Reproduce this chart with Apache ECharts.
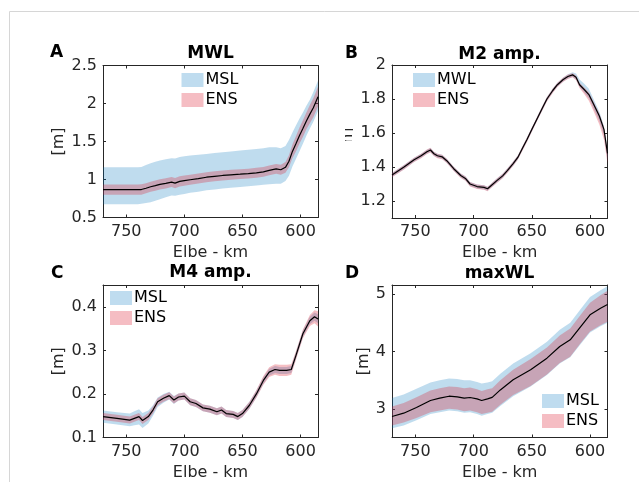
<!DOCTYPE html>
<html>
<head>
<meta charset="utf-8">
<script src="https://cdn.jsdelivr.net/npm/echarts@6/dist/echarts.min.js"></script>
<style>html,body{margin:0;padding:0;background:#fff}#c{width:639px;height:482px}</style>
</head>
<body>
<div id="c"></div>
<script>
// ---------- Panel A : MWL ----------
const kmA = [770,760,750,740,737,733,729,725,721,716,711,708,704,700,695,688,681,674,667,660,652,645,638,632,627,621,617,613,610,607,604,601,598,595,592,589,585];
const lineA = [0.866,0.866,0.866,0.866,0.868,0.885,0.905,0.92,0.936,0.95,0.966,0.952,0.975,0.985,0.997,1.012,1.03,1.042,1.053,1.062,1.07,1.078,1.088,1.10,1.12,1.14,1.128,1.16,1.24,1.37,1.47,1.576,1.67,1.77,1.86,1.945,2.09];
const mslHiA = [1.16,1.16,1.16,1.162,1.165,1.19,1.215,1.235,1.25,1.265,1.28,1.275,1.295,1.305,1.315,1.325,1.337,1.35,1.36,1.37,1.38,1.39,1.40,1.41,1.425,1.425,1.41,1.44,1.52,1.62,1.71,1.80,1.88,1.97,2.05,2.15,2.30];
const mslLoA = [0.674,0.674,0.674,0.675,0.68,0.69,0.70,0.72,0.74,0.765,0.79,0.785,0.80,0.81,0.825,0.84,0.857,0.87,0.88,0.89,0.90,0.91,0.92,0.93,0.936,0.945,0.944,0.98,1.05,1.17,1.27,1.37,1.47,1.576,1.67,1.76,1.90];
const ensHiA = [0.935,0.935,0.935,0.935,0.937,0.952,0.972,0.988,1.003,1.017,1.033,1.02,1.042,1.052,1.063,1.078,1.095,1.107,1.118,1.127,1.135,1.143,1.153,1.165,1.185,1.205,1.195,1.23,1.32,1.46,1.57,1.68,1.78,1.88,1.98,2.07,2.22];
const ensLoA = [0.80,0.80,0.80,0.80,0.80,0.818,0.838,0.853,0.868,0.883,0.90,0.886,0.908,0.918,0.93,0.946,0.965,0.977,0.988,0.997,1.005,1.013,1.023,1.035,1.055,1.075,1.062,1.09,1.16,1.28,1.37,1.47,1.56,1.66,1.74,1.82,1.96];

// ---------- Panel B : M2 amp. ----------
const kmB = [770,760,751,745,740,737,734,731,727,723,717,711,707,703,697,691,688,685,680,675,671,666,662,658,654,650,645,641,637,632,628,623,619,615,612,609,605,601,597,592,588,585];
const lineB = [1.353,1.398,1.443,1.466,1.49,1.50,1.478,1.466,1.46,1.437,1.39,1.35,1.333,1.30,1.285,1.28,1.272,1.29,1.32,1.348,1.379,1.42,1.456,1.51,1.563,1.62,1.69,1.745,1.80,1.85,1.884,1.915,1.932,1.942,1.928,1.884,1.856,1.826,1.77,1.70,1.62,1.48];
const mslHiB = [1.365,1.41,1.455,1.478,1.502,1.512,1.49,1.478,1.472,1.449,1.402,1.362,1.345,1.312,1.297,1.292,1.284,1.302,1.332,1.36,1.391,1.432,1.468,1.522,1.575,1.632,1.702,1.757,1.812,1.862,1.896,1.927,1.945,1.958,1.95,1.915,1.89,1.86,1.80,1.725,1.64,1.50];
const mslLoB = [1.341,1.386,1.431,1.454,1.478,1.488,1.466,1.454,1.448,1.425,1.378,1.338,1.321,1.288,1.273,1.268,1.26,1.278,1.308,1.336,1.367,1.408,1.444,1.498,1.551,1.608,1.678,1.733,1.788,1.838,1.872,1.903,1.92,1.93,1.915,1.87,1.84,1.805,1.745,1.67,1.585,1.44];
const ensHiB = [1.365,1.41,1.455,1.478,1.503,1.513,1.49,1.478,1.472,1.449,1.402,1.362,1.345,1.312,1.297,1.292,1.284,1.302,1.332,1.36,1.391,1.432,1.468,1.522,1.575,1.632,1.702,1.757,1.812,1.862,1.896,1.927,1.944,1.952,1.938,1.896,1.868,1.84,1.785,1.715,1.635,1.50];
const ensLoB = [1.339,1.384,1.429,1.452,1.476,1.486,1.464,1.452,1.446,1.423,1.376,1.336,1.319,1.286,1.271,1.266,1.258,1.276,1.306,1.334,1.365,1.406,1.442,1.496,1.549,1.606,1.676,1.731,1.786,1.836,1.870,1.901,1.918,1.928,1.91,1.865,1.83,1.79,1.73,1.65,1.56,1.42];

// ---------- Panel C : M4 amp. ----------
const kmC = [770,758,747,743,739,736,731,727,723,718,713,709,705,700,695,690,684,678,672,668,664,658,654,650,644,638,632,627,622,618,612,608,604,598,592,588,585];
const lineC = [0.148,0.144,0.140,0.144,0.148,0.139,0.148,0.163,0.182,0.190,0.196,0.186,0.193,0.195,0.182,0.178,0.168,0.165,0.159,0.163,0.155,0.153,0.148,0.155,0.174,0.200,0.231,0.250,0.256,0.254,0.254,0.256,0.288,0.338,0.368,0.377,0.372];
const mslHiC = [0.162,0.158,0.155,0.160,0.165,0.156,0.162,0.174,0.192,0.200,0.205,0.195,0.201,0.203,0.19,0.186,0.176,0.173,0.167,0.171,0.163,0.161,0.156,0.163,0.182,0.208,0.239,0.258,0.264,0.262,0.262,0.264,0.296,0.346,0.377,0.387,0.383];
const mslLoC = [0.134,0.13,0.126,0.128,0.13,0.122,0.132,0.15,0.17,0.18,0.187,0.177,0.185,0.187,0.174,0.17,0.16,0.157,0.151,0.155,0.147,0.145,0.14,0.147,0.166,0.192,0.223,0.242,0.248,0.246,0.246,0.248,0.28,0.33,0.36,0.368,0.362];
const ensHiC = [0.156,0.152,0.148,0.152,0.156,0.147,0.156,0.171,0.19,0.198,0.204,0.194,0.201,0.203,0.19,0.186,0.176,0.173,0.167,0.171,0.163,0.161,0.156,0.163,0.182,0.209,0.241,0.261,0.268,0.267,0.267,0.268,0.298,0.348,0.381,0.392,0.39];
const ensLoC = [0.14,0.136,0.132,0.136,0.14,0.131,0.14,0.155,0.174,0.182,0.188,0.178,0.185,0.187,0.174,0.17,0.16,0.157,0.151,0.155,0.147,0.145,0.14,0.147,0.166,0.191,0.221,0.239,0.244,0.241,0.241,0.244,0.278,0.328,0.356,0.362,0.355];

// ---------- Panel D : maxWL ----------
const kmD = [770,760,749,737,729,721,714,708,703,697,693,688,684,677,666,651,637,626,617,608,600,591,585];
const lineD = [2.866,2.924,3.023,3.145,3.186,3.22,3.21,3.186,3.198,3.174,3.145,3.174,3.20,3.33,3.506,3.68,3.884,4.087,4.203,4.436,4.64,4.756,4.82];
const mslHiD = [3.19,3.25,3.35,3.46,3.50,3.53,3.52,3.50,3.50,3.47,3.44,3.46,3.48,3.61,3.79,3.97,4.17,4.38,4.50,4.74,4.95,5.07,5.14];
const mslLoD = [2.66,2.71,2.80,2.91,2.94,2.97,2.96,2.93,2.94,2.91,2.88,2.91,2.93,3.05,3.22,3.39,3.59,3.79,3.90,4.13,4.33,4.44,4.50];
const ensHiD = [3.04,3.10,3.20,3.32,3.36,3.39,3.38,3.36,3.37,3.34,3.31,3.34,3.36,3.50,3.68,3.87,4.07,4.28,4.40,4.64,4.85,4.98,5.06];
const ensLoD = [2.71,2.76,2.84,2.94,2.97,3.00,2.99,2.96,2.97,2.94,2.91,2.93,2.95,3.07,3.24,3.40,3.60,3.80,3.91,4.15,4.35,4.46,4.52];

// ---------- ticks ----------
const xTicks = [600,650,700,750];
const yTicksA = [0.5,1,1.5,2,2.5];
const yTicksB = [1.2,1.4,1.6,1.8,2];
const yTicksC = [0.1,0.2,0.3,0.4];
const yTicksD = [3,4,5];

const FONT = 'DejaVu Sans';
const FS = 16;
const AX = '#262626';
const BLUE = 'rgba(0,114,189,0.25)';
const RED = 'rgba(220,20,40,0.28)';
const BLUE_L = '#bfdcef';
const RED_L = '#f5bdc3';

const grids = [
  {left:103, top:65.5, width:215, height:152},
  {left:392, top:65,   width:215.5, height:153},
  {left:103, top:285,  width:215, height:152.5},
  {left:392, top:285,  width:215.5, height:152.5}
];
const yRanges = [[0.5,2.5,yTicksA],[1.1,2,yTicksB],[0.1,0.45,yTicksC],[2.5,5.16,yTicksD]];
const yGaps = [36,36,36,18];

const xAxes = [], yAxes = [];
grids.forEach((g,i)=>{
  xAxes.push({type:'value', gridIndex:i, min:585, max:770, inverse:true, position:'bottom',
    axisLine:{lineStyle:{color:AX,width:1}}, splitLine:{show:false},
    axisTick:{inside:true,length:3,lineStyle:{color:AX},customValues:xTicks},
    axisLabel:{color:AX,fontSize:FS,fontFamily:FONT,margin:6,customValues:xTicks},
    name:'Elbe - km', nameLocation:'middle', nameGap:27,
    nameTextStyle:{color:AX,fontSize:FS,fontFamily:FONT}});
  xAxes.push({type:'value', gridIndex:i, min:585, max:770, inverse:true, position:'top',
    axisLine:{lineStyle:{color:AX,width:1}}, splitLine:{show:false},
    axisTick:{inside:true,length:3,lineStyle:{color:AX},customValues:xTicks},
    axisLabel:{show:false}});
  const [mn,mx,tk] = yRanges[i];
  yAxes.push({type:'value', gridIndex:i, min:mn, max:mx, position:'left',
    axisLine:{show:true,lineStyle:{color:AX,width:1}}, splitLine:{show:false},
    axisTick:{show:true,inside:true,length:3,lineStyle:{color:AX},customValues:tk},
    axisLabel:{color:AX,fontSize:FS,fontFamily:FONT,margin:6,customValues:tk},
    name:'[m]', nameLocation:'middle', nameGap: yGaps[i], nameRotate:90,
    nameTextStyle:{color:AX,fontSize:FS,fontFamily:FONT}});
  yAxes.push({type:'value', gridIndex:i, min:mn, max:mx, position:'right',
    axisLine:{show:true,lineStyle:{color:AX,width:1}}, splitLine:{show:false},
    axisTick:{show:true,inside:true,length:3,lineStyle:{color:AX},customValues:tk},
    axisLabel:{show:false}});
});

function band(name, km, hi, lo, color, gi, z){
  return {type:'custom', name:name, xAxisIndex:gi*2, yAxisIndex:gi*2, clip:true, z:z, silent:true,
    itemStyle:{color:color}, data:[[km[0], hi[0]]],
    renderItem:function(params, api){
      const pts=[];
      for(let i=0;i<km.length;i++) pts.push(api.coord([km[i],hi[i]]));
      for(let i=km.length-1;i>=0;i--) pts.push(api.coord([km[i],lo[i]]));
      return {type:'polygon', shape:{points:pts}, style:{fill:color}};
    }};
}
function mean(km, v, gi){
  return {type:'line', name:'mean'+gi, xAxisIndex:gi*2, yAxisIndex:gi*2, z:5, silent:true,
    showSymbol:false, symbol:'none', data: km.map((k,i)=>[k,v[i]]),
    lineStyle:{color:'#000',width:1.2}, itemStyle:{color:'#000'}};
}

const series = [
  band('MSL',kmA,mslHiA,mslLoA,BLUE,0,2), band('ENS',kmA,ensHiA,ensLoA,RED,0,3), mean(kmA,lineA,0),
  band('MWL',kmB,mslHiB,mslLoB,BLUE,1,2), band('ENS',kmB,ensHiB,ensLoB,RED,1,3), mean(kmB,lineB,1),
  band('MSL',kmC,mslHiC,mslLoC,BLUE,2,2), band('ENS',kmC,ensHiC,ensLoC,RED,2,3), mean(kmC,lineC,2),
  band('MSL',kmD,mslHiD,mslLoD,BLUE,3,2), band('ENS',kmD,ensHiD,ensLoD,RED,3,3), mean(kmD,lineD,3)
];

function legend(first, left, top){
  return {orient:'vertical', left:left, top:top, padding:0, itemGap:4, itemWidth:22, itemHeight:14,
    icon:'rect', selectedMode:false,
    textStyle:{color:'#000',fontSize:FS,fontFamily:FONT,padding:[0,0,0,-3]},
    data:[{name:first,itemStyle:{color:BLUE_L}},{name:'ENS',itemStyle:{color:RED_L}}]};
}

function txt(t, x, y, font, align){
  return {type:'text', z:50, style:{text:t, x:x, y:y, font:font, fill:'#000', textAlign:align||'center', textVerticalAlign:'middle'}};
}
const white = (x,y,w,h)=>({type:'rect', z:60, shape:{x:x,y:y,width:w,height:h}, style:{fill:'#fff'}});

const chart = echarts.init(document.getElementById('c'), null, {renderer:'canvas'});
chart.setOption({
  animation:false,
  backgroundColor:'#fff',
  grid: grids,
  xAxis: xAxes,
  yAxis: yAxes,
  legend: [legend('MSL',181.5,72), legend('MWL',413,72), legend('MSL',110,290), legend('MSL',542,393)],
  series: series,
  graphic: [
    {type:'line', z:40, shape:{x1:9.5,y1:11.5,x2:639,y2:11.5}, style:{stroke:'#d6d6d6',lineWidth:1}},
    {type:'line', z:40, shape:{x1:9.5,y1:11.5,x2:9.5,y2:482}, style:{stroke:'#d6d6d6',lineWidth:1}},
    txt('A',50,53,'bold 17px "DejaVu Sans"','left'),
    txt('B',345,54,'bold 17px "DejaVu Sans"','left'),
    txt('C',51,274,'bold 17px "DejaVu Sans"','left'),
    txt('D',345,274,'bold 17px "DejaVu Sans"','left'),
    txt('MWL',210.5,53.5,'bold 17px "DejaVu Sans"'),
    txt('M2 amp.',499.5,54.5,'bold 17px "DejaVu Sans"'),
    txt('M4 amp.',210.5,272.5,'bold 17px "DejaVu Sans"'),
    txt('maxWL',499.5,274,'bold 17px "DejaVu Sans"'),
    white(334,105,11,70), white(353,105,7,70), white(345,105,8,22.5), white(345,141,8,34)
  ]
});
</script>
</body>
</html>
